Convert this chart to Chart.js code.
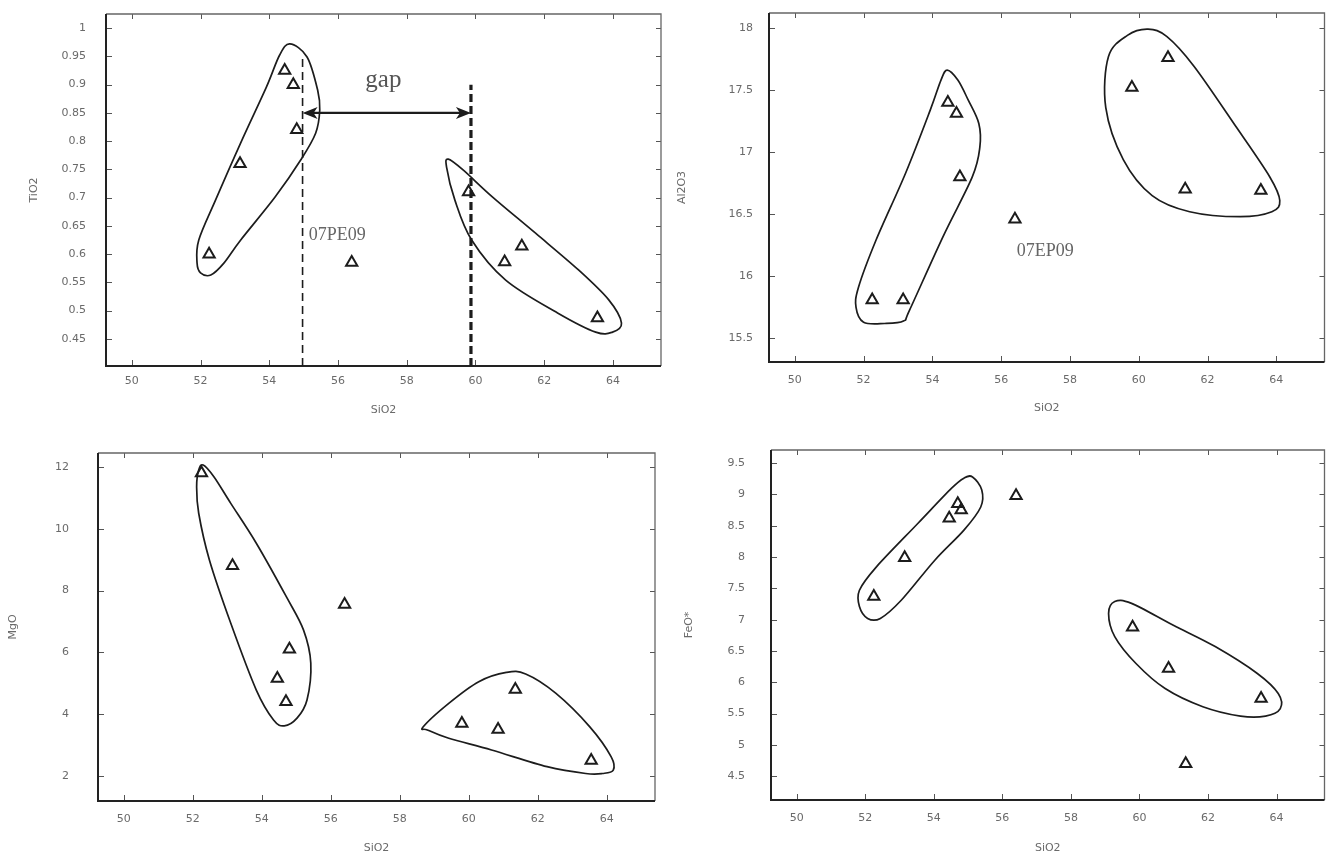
<!DOCTYPE html>
<html>
<head>
<meta charset="utf-8">
<title>SiO2 variation diagrams</title>
<script src="https://cdn.jsdelivr.net/npm/chart.js@4.4.1/dist/chart.umd.min.js"></script>
<style>
  html, body { margin: 0; padding: 0; background: #fff; }
  #wrap { position: relative; width: 1333px; height: 855px; overflow: hidden; background: #fff; }
  canvas { position: absolute; }
</style>
</head>
<body>
<div id="wrap">
  <canvas id="cTi" width="670" height="425" style="left:0;top:0;width:670px;height:425px"></canvas>
  <canvas id="cAl" width="663" height="425" style="left:670px;top:0;width:663px;height:425px"></canvas>
  <canvas id="cMg" width="670" height="425" style="left:0;top:430px;width:670px;height:425px"></canvas>
  <canvas id="cFe" width="663" height="425" style="left:670px;top:430px;width:663px;height:425px"></canvas>
</div>
<script>
// ---- sample compositions (wt%) ----
const SIO2  = [52.25, 53.15, 54.45, 54.7, 54.8, 56.4, 59.8, 60.85, 61.35, 63.55];
const TIO2  = [0.60, 0.76, 0.925, 0.90, 0.82, 0.585, 0.71, 0.586, 0.614, 0.487];
const AL2O3 = [15.81, 15.81, 17.40, 17.31, 16.80, 16.46, 17.52, 17.76, 16.70, 16.69];
const MGO   = [11.8, 8.8, 5.15, 4.4, 6.1, 7.55, 3.7, 3.5, 4.8, 2.5];
const FEO   = [7.37, 7.99, 8.62, 8.85, 8.75, 8.98, 6.88, 6.22, 4.70, 5.74];

// ---- axis ranges and tick values ----
const X_RANGE     = [49.25, 65.4];
const SIO2_TICKS  = [50, 52, 54, 56, 58, 60, 62, 64];
const TIO2_RANGE  = [0.402, 1.025];
const TIO2_TICKS  = [0.45, 0.5, 0.55, 0.6, 0.65, 0.7, 0.75, 0.8, 0.85, 0.9, 0.95, 1];
const AL2O3_RANGE = [15.31, 18.12];
const AL2O3_TICKS = [15.5, 16, 16.5, 17, 17.5, 18];
const MGO_RANGE   = [1.19, 12.45];
const MGO_TICKS   = [2, 4, 6, 8, 10, 12];
const FEO_RANGE   = [4.12, 9.71];
const FEO_TICKS   = [4.5, 5, 5.5, 6, 6.5, 7, 7.5, 8, 8.5, 9, 9.5];

// ---- hand-drawn group boundaries, [SiO2, oxide] outline nodes ----
const TIO2_FIELDS = [
  [[54.6,0.972],[55.1,0.949],[55.41,0.89],[55.47,0.855],[55.35,0.814],[54.92,0.767],[54.17,0.701],
   [53.17,0.625],[52.68,0.584],[52.3,0.563],[52.0,0.567],[51.9,0.584],[51.95,0.625],[52.44,0.696],
   [53.17,0.797],[53.92,0.896],[54.3,0.952]],
  [[59.21,0.768],[59.64,0.749],[60.5,0.701],[61.75,0.637],[63.0,0.572],[63.88,0.519],[64.25,0.478],
   [63.99,0.462],[63.5,0.462],[62.39,0.496],[60.88,0.554],[59.89,0.625],[59.4,0.696],[59.16,0.754]]
];
const AL2O3_FIELDS = [
  [[54.43,17.66],[54.74,17.58],[55.04,17.42],[55.35,17.23],[55.38,17.04],[55.16,16.8],[54.31,16.32],
   [53.34,15.73],[53.16,15.64],[52.61,15.62],[52.0,15.63],[51.78,15.75],[51.85,15.91],[52.36,16.29],
   [53.22,16.83],[53.94,17.34],[54.25,17.58]],
  [[60.27,17.99],[60.82,17.93],[61.61,17.69],[62.84,17.2],[63.81,16.8],[64.1,16.61],[63.87,16.52],
   [62.95,16.48],[61.48,16.52],[60.39,16.65],[59.55,16.94],[59.04,17.36],[59.12,17.77],[59.67,17.94]]
];
const MGO_FIELDS = [
  [[52.3,12.06],[52.61,11.68],[53.1,10.82],[53.84,9.53],[54.71,7.8],[55.21,6.72],[55.42,5.65],
   [55.31,4.46],[55.02,3.87],[54.65,3.62],[54.34,3.81],[53.84,4.78],[53.1,6.94],[52.48,8.99],
   [52.17,10.5],[52.11,11.36],[52.17,11.9]],
  [[58.68,3.59],[59.42,4.35],[60.29,5.05],[61.09,5.35],[61.65,5.3],[62.52,4.68],[63.51,3.59],
   [64.13,2.62],[64.19,2.19],[63.88,2.08],[63.39,2.08],[62.27,2.3],[60.66,2.84],[59.42,3.22],[58.8,3.49]]
];
const FEO_FIELDS = [
  [[55.13,9.28],[55.4,9.07],[55.37,8.8],[54.88,8.43],[54.03,7.95],[53.05,7.31],[52.44,7.02],
   [52.07,7.02],[51.83,7.21],[51.83,7.47],[52.32,7.84],[53.54,8.54],[54.52,9.1],[54.88,9.26]],
  [[59.28,7.29],[59.77,7.26],[60.99,6.91],[62.21,6.57],[63.44,6.14],[64.05,5.82],[64.11,5.58],
   [63.68,5.46],[62.95,5.46],[61.85,5.61],[60.75,5.9],[59.9,6.3],[59.28,6.73],[59.1,7.1]]
];

// compositional gap between the two groups on the TiO2 plot
const GAP_LOW = 54.97, GAP_HIGH = 59.87, GAP_ARROW_Y = 0.85;

const TICK_FONT  = { family: 'DejaVu Sans', size: 11 };
const TICK_COLOR = '#6a6a6a';
const LINE_COLOR = '#1c1c1c';

function closedSpline(ctx, pts) {
  const n = pts.length;
  ctx.beginPath();
  ctx.moveTo(pts[0][0], pts[0][1]);
  for (let i = 0; i < n; i++) {
    const p0 = pts[(i - 1 + n) % n], p1 = pts[i], p2 = pts[(i + 1) % n], p3 = pts[(i + 2) % n];
    ctx.bezierCurveTo(
      p1[0] + (p2[0] - p0[0]) / 6, p1[1] + (p2[1] - p0[1]) / 6,
      p2[0] - (p3[0] - p1[0]) / 6, p2[1] - (p3[1] - p1[1]) / 6,
      p2[0], p2[1]);
  }
  ctx.closePath();
  ctx.stroke();
}

function arrowHead(ctx, x, y, dir) {
  ctx.beginPath();
  ctx.moveTo(x, y);
  ctx.lineTo(x - dir * 15, y - 6);
  ctx.lineTo(x - dir * 11, y);
  ctx.lineTo(x - dir * 15, y + 6);
  ctx.closePath();
  ctx.fill();
}

// draws the group outlines, the frame with inward ticks, and any annotations
function makeDecor(cfg) {
  return {
    id: 'decor',
    beforeDatasetsDraw(chart) {
      const { ctx, scales: { x, y } } = chart;
      ctx.save();
      ctx.strokeStyle = LINE_COLOR;
      ctx.lineWidth = 1.7;
      cfg.fields.forEach(f => closedSpline(ctx, f.map(p => [x.getPixelForValue(p[0]), y.getPixelForValue(p[1])])));
      ctx.restore();
    },
    afterDraw(chart) {
      const { ctx, chartArea: a, scales: { x, y } } = chart;
      ctx.save();
      // inward tick marks on all four sides
      ctx.strokeStyle = '#555';
      ctx.lineWidth = 1;
      ctx.beginPath();
      x.ticks.forEach(t => {
        const px = Math.round(x.getPixelForValue(t.value)) + 0.5;
        ctx.moveTo(px, a.bottom); ctx.lineTo(px, a.bottom - 6);
        ctx.moveTo(px, a.top); ctx.lineTo(px, a.top + 5);
      });
      y.ticks.forEach(t => {
        const py = Math.round(y.getPixelForValue(t.value)) + 0.5;
        ctx.moveTo(a.left, py); ctx.lineTo(a.left + 6, py);
        ctx.moveTo(a.right, py); ctx.lineTo(a.right - 5, py);
      });
      ctx.stroke();
      // frame
      ctx.strokeStyle = '#666';
      ctx.lineWidth = 1.3;
      ctx.beginPath();
      ctx.moveTo(a.left, a.top); ctx.lineTo(a.right, a.top); ctx.lineTo(a.right, a.bottom);
      ctx.stroke();
      ctx.strokeStyle = '#222';
      ctx.lineWidth = 2;
      ctx.beginPath();
      ctx.moveTo(a.left, a.top); ctx.lineTo(a.left, a.bottom); ctx.lineTo(a.right, a.bottom);
      ctx.stroke();

      // vertical dashed lines
      (cfg.vlines || []).forEach(v => {
        ctx.strokeStyle = LINE_COLOR;
        ctx.lineWidth = v.width;
        ctx.setLineDash(v.dash);
        const px = x.getPixelForValue(v.x);
        ctx.beginPath();
        ctx.moveTo(px, y.getPixelForValue(v.y0));
        ctx.lineTo(px, y.getPixelForValue(v.y1));
        ctx.stroke();
      });
      ctx.setLineDash([]);

      // double-headed arrow
      if (cfg.arrow) {
        const r = cfg.arrow;
        const x0 = x.getPixelForValue(r.x0), x1 = x.getPixelForValue(r.x1), py = y.getPixelForValue(r.y);
        ctx.strokeStyle = LINE_COLOR;
        ctx.fillStyle = LINE_COLOR;
        ctx.lineWidth = 2.2;
        ctx.beginPath();
        ctx.moveTo(x0 + 8, py); ctx.lineTo(x1 - 8, py);
        ctx.stroke();
        arrowHead(ctx, x0, py, -1);
        arrowHead(ctx, x1, py, 1);
      }

      // text labels
      (cfg.texts || []).forEach(t => {
        ctx.font = t.font;
        ctx.fillStyle = t.color;
        ctx.textAlign = t.align;
        ctx.textBaseline = 'middle';
        ctx.fillText(t.text, x.getPixelForValue(t.x), y.getPixelForValue(t.y));
      });
      ctx.restore();
    }
  };
}

function makeChart(id, p) {
  return new Chart(document.getElementById(id), {
    type: 'scatter',
    data: {
      datasets: [{
        data: SIO2.map((v, i) => ({ x: v, y: p.values[i] })),
        pointStyle: 'triangle',
        pointRadius: 6.5,
        pointHoverRadius: 6.5,
        borderWidth: 2,
        borderColor: LINE_COLOR,
        backgroundColor: 'rgba(0,0,0,0)'
      }]
    },
    options: {
      responsive: false,
      animation: false,
      devicePixelRatio: 1,
      events: [],
      layout: { padding: { left: 0, top: p.top, right: p.right, bottom: 0 } },
      plugins: { legend: { display: false }, tooltip: { enabled: false } },
      scales: {
        x: {
          type: 'linear',
          min: X_RANGE[0], max: X_RANGE[1],
          afterBuildTicks: s => { s.ticks = SIO2_TICKS.map(v => ({ value: v })); },
          afterFit: s => { s.height = p.xh; s.paddingLeft = 0; s.paddingRight = 0; },
          grid: { display: false, drawTicks: false },
          border: { display: false },
          ticks: { font: TICK_FONT, color: TICK_COLOR, padding: p.xpad, maxRotation: 0, autoSkip: false,
                   callback: v => String(v) },
          title: { display: true, text: 'SiO2', font: TICK_FONT, color: TICK_COLOR,
                   padding: { top: 0, bottom: p.xtpad } }
        },
        y: {
          type: 'linear',
          min: p.range[0], max: p.range[1],
          afterBuildTicks: s => { s.ticks = p.ticks.map(v => ({ value: v })); },
          afterFit: s => { s.width = p.yw; s.paddingTop = 0; s.paddingBottom = 0; },
          grid: { display: false, drawTicks: false },
          border: { display: false },
          ticks: { font: TICK_FONT, color: TICK_COLOR, padding: p.ypad, autoSkip: false,
                   callback: v => String(v) },
          title: { display: true, text: p.title, font: TICK_FONT, color: TICK_COLOR,
                   padding: { top: p.ytpad, bottom: 0 } }
        }
      }
    },
    plugins: [makeDecor(p.decor)]
  });
}

makeChart('cTi', {
  values: TIO2, range: TIO2_RANGE, ticks: TIO2_TICKS, title: 'TiO2',
  top: 14, right: 9, xh: 59, yw: 106, xpad: 9, xtpad: 8, ypad: 20, ytpad: 28,
  decor: {
    fields: TIO2_FIELDS,
    vlines: [
      { x: GAP_LOW,  y0: TIO2_RANGE[0], y1: 0.947, width: 1.6, dash: [8, 5] },
      { x: GAP_HIGH, y0: TIO2_RANGE[0], y1: 0.90,  width: 3.2, dash: [8, 4] }
    ],
    arrow: { x0: GAP_LOW, x1: GAP_HIGH, y: GAP_ARROW_Y },
    texts: [
      { text: 'gap', x: 57.32, y: 0.907, font: '25px "Liberation Serif"', color: '#555', align: 'center' },
      { text: '07PE09', x: 55.15, y: 0.634, font: '18px "Liberation Serif"', color: '#666', align: 'left' }
    ]
  }
});

makeChart('cAl', {
  values: AL2O3, range: AL2O3_RANGE, ticks: AL2O3_TICKS, title: 'Al2O3',
  top: 13, right: 3, xh: 63, yw: 99, xpad: 12, xtpad: 10, ypad: 16, ytpad: 6,
  decor: {
    fields: AL2O3_FIELDS,
    texts: [
      { text: '07EP09', x: 56.45, y: 16.2, font: '18px "Liberation Serif"', color: '#666', align: 'left' }
    ]
  }
});

makeChart('cMg', {
  values: MGO, range: MGO_RANGE, ticks: MGO_TICKS, title: 'MgO',
  top: 23, right: 15, xh: 54, yw: 98, xpad: 12, xtpad: 0, ypad: 29, ytpad: 7,
  decor: { fields: MGO_FIELDS }
});

makeChart('cFe', {
  values: FEO, range: FEO_RANGE, ticks: FEO_TICKS, title: 'FeO*',
  top: 20, right: 3, xh: 55, yw: 101, xpad: 12, xtpad: 0, ypad: 26, ytpad: 13,
  decor: { fields: FEO_FIELDS }
});
</script>
</body>
</html>
